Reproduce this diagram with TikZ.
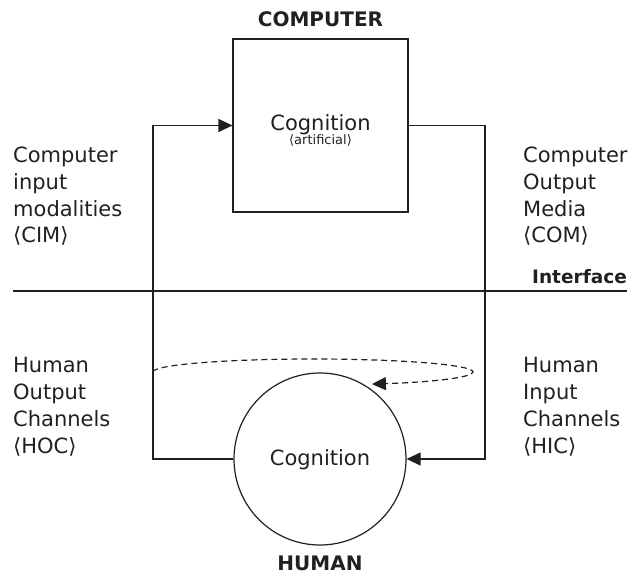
\documentclass[tikz,border=0pt]{standalone}
\usepackage{fontspec}
\setmainfont{DejaVu Sans}
\usetikzlibrary{arrows.meta}
\definecolor{ink}{HTML}{231F20}
\begin{document}
\begin{tikzpicture}[x=1pt,y=1pt,
  line/.style={draw=ink,line width=1.2pt},
  arr/.style={line, -{Triangle[length=14pt,width=13pt]}},
  lbl/.style={text=ink,font=\fontsize{21}{26.7}\selectfont,inner sep=0pt,align=left},
  ttl/.style={text=ink,font=\fontsize{20}{24}\selectfont\bfseries,inner sep=0pt},
  cog/.style={text=ink,font=\fontsize{21}{24}\selectfont,inner sep=0pt}]
\useasboundingbox (0,0) rectangle (634,576);
% shapes
\node[line, rectangle, minimum width=175pt, minimum height=173pt, inner sep=0pt] (box) at (320.5,450.5) {};
\node[line, circle, minimum size=172pt, inner sep=0pt] (circ) at (320,117) {};
% texts
\node[ttl, anchor=base] (computer) at (320.5,549) {COMPUTER};
\node[ttl, anchor=base] (human) at (320,6) {HUMAN};
\node[cog, anchor=base] (cogA) at (320.5,445) {Cognition};
\node[text=ink,font=\fontsize{13}{15}\selectfont,inner sep=0pt,anchor=base] (artif) at (320.5,431) {⟨artificial⟩};
\node[cog, anchor=base] (cogH) at (320,111) {Cognition};
\node[lbl, anchor=base west] (cim) at (13,333) {Computer\\input\\modalities\\⟨CIM⟩};
\node[lbl, anchor=base west] (com) at (523,333) {Computer\\Output\\Media\\⟨COM⟩};
\node[lbl, anchor=base west] (hoc) at (13,123) {Human\\Output\\Channels\\⟨HOC⟩};
\node[lbl, anchor=base west] (hic) at (523,123) {Human\\Input\\Channels\\⟨HIC⟩};
\node[text=ink,font=\fontsize{18.5}{22}\selectfont\bfseries,inner sep=0pt,anchor=base east] (iface) at (627,292) {Interface};
% interface line
\coordinate (ifl) at (13,285);
\coordinate (ifr) at (627,285);
\draw[line] (ifl) -- (ifr);
% connectors
\coordinate (lt) at (153,450.5);
\coordinate (rt) at (485,450.5);
\draw[arr] (circ.west) -| (lt) -- (box.west);
\draw[arr] (box.east) -- (rt) |- (circ.east);
% dashed loop
\coordinate (el) at (153,204);
\draw[arr, dash pattern=on 6pt off 4pt] (el) arc[start angle=180, end angle=-68.4, x radius=160, y radius=13];
\end{tikzpicture}
\end{document}
